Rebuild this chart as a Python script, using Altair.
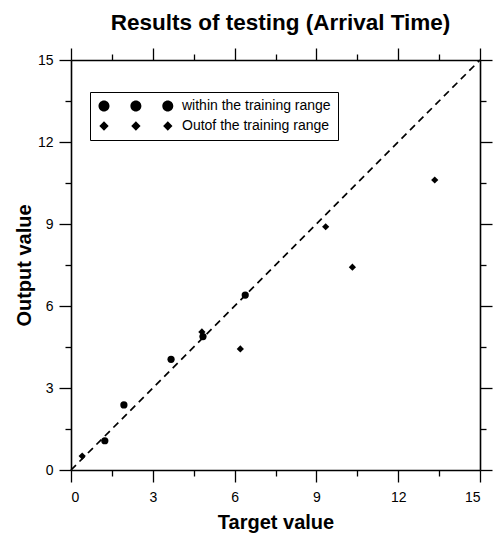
import altair as alt
import pandas as pd

# ---- data ----
within_x = [1.24, 1.94, 3.67, 4.84, 6.39]
within_y = [1.07, 2.38, 4.05, 4.88, 6.40]
out_x = [0.41, 4.80, 6.21, 9.34, 10.32, 13.34]
out_y = [0.51, 5.05, 4.43, 8.90, 7.42, 10.61]
ideal_x = [0, 15]
ideal_y = [0, 15]
tick_values = [0, 1.5, 3, 4.5, 6, 7.5, 9, 10.5, 12, 13.5, 15]
cat_within = "within the training range"
cat_out = "Outof the training range"

FONT = "Liberation Sans"

pts = pd.DataFrame({
    "x": within_x + out_x,
    "y": within_y + out_y,
    "type": [cat_within] * len(within_x) + [cat_out] * len(out_x),
})
ideal = pd.DataFrame({"x": ideal_x, "y": ideal_y})

# legend symbol paths: three shapes in a row (unit coordinates)
def three(shape_fn, step):
    return " ".join(shape_fn(i * step) for i in range(3))

def circle(cx, r=1.0):
    return (f"M{cx - r:.3f},0A{r},{r} 0 1,0 {cx + r:.3f},0"
            f"A{r},{r} 0 1,0 {cx - r:.3f},0Z")

def diamond(cx, r=0.85):
    return (f"M{cx:.3f},{-r}L{cx + r:.3f},0L{cx:.3f},{r}L{cx - r:.3f},0Z")

STEP = 5.8
legend_paths = [three(circle, STEP), three(diamond, STEP)]

scale_x = alt.Scale(domain=[0, 15], nice=False, zero=False)
scale_y = alt.Scale(domain=[0, 15], nice=False, zero=False)

tick_size = {"condition": {"test": "datum.value % 3 === 0", "value": 12}, "value": 6}
common = dict(
    values=tick_values,
    tickSize=tick_size,
    tickColor="black",
    tickWidth=1.3,
    domainColor="black",
    domainWidth=1.6,
    grid=False,
    labelFont=FONT,
    labelFontSize=14,
    labelColor="black",
    titleFont=FONT,
    titleFontSize=20,
    titleFontWeight="bold",
    titleColor="black",
)
lab_expr = "datum.value % 3 === 0 ? datum.label : ''"

x_bottom = alt.Axis(orient="bottom", labelExpr=lab_expr, title="Target value",
                    labelPadding=8, titlePadding=8, **common)
y_left = alt.Axis(orient="left", labelExpr=lab_expr, title="Output value",
                  labelPadding=6, titlePadding=3, **common)
x_top = alt.Axis(orient="top", labels=False, title=None, **common)
y_right = alt.Axis(orient="right", labels=False, title=None, **common)

line = alt.Chart(ideal).mark_line(
    color="black", strokeWidth=1.7, strokeDash=[7, 5]
).encode(
    x=alt.X("x:Q", scale=scale_x, axis=x_bottom),
    y=alt.Y("y:Q", scale=scale_y, axis=y_left),
)

points = alt.Chart(pts).mark_point(
    filled=True, color="black", opacity=1, size=52
).encode(
    x=alt.X("x:Q", scale=scale_x, axis=x_top),
    y=alt.Y("y:Q", scale=scale_y, axis=y_right),
    shape=alt.Shape("type:N",
                    scale=alt.Scale(domain=[cat_within, cat_out],
                                    range=["circle", "diamond"]),
                    legend=None),
)

legend_layer = alt.Chart(pts).transform_filter("false").mark_point(
    filled=True, color="black", opacity=1, size=121
).encode(
    shape=alt.Shape("type:N",
                    scale=alt.Scale(domain=[cat_within, cat_out],
                                    range=legend_paths),
                    legend=alt.Legend(
                        title=None,
                        orient="none",
                        legendX=19,
                        legendY=32,
                        padding=7,
                        strokeColor="black",
                        fillColor="white",
                        symbolSize=121,
                        symbolFillColor="black",
                        symbolStrokeWidth=0,
                        symbolOpacity=1,
                        labelOffset=71,
                        labelFont=FONT,
                        labelFontSize=14,
                        labelColor="black",
                        rowPadding=6,
                    )),
)

chart = alt.layer(line, points, legend_layer).resolve_scale(
    shape="independent"
).resolve_axis(
    x="independent", y="independent"
).properties(
    width=409,
    height=410,
    title=alt.TitleParams(
        "Results of testing (Arrival Time)",
        font=FONT, fontSize=22.5, fontWeight="bold", color="black",
        anchor="middle", offset=13, dx=5,
    ),
    autosize=alt.AutoSizeParams(type="none"),
    padding={"left": 71, "top": 60, "right": 16, "bottom": 65},
).configure_view(stroke=None).configure(background="white")

chart.save("out.html", embed_options={"renderer": "svg", "actions": False})
